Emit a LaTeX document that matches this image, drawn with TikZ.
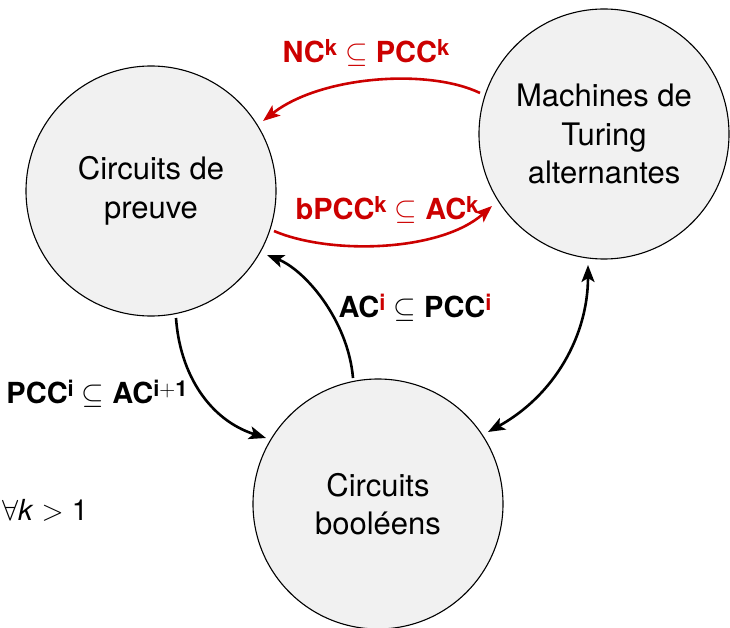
\RequirePackage{fix-cm}
\documentclass[tikz,border=0pt]{standalone}
\usepackage{fontspec}
\setmainfont{TeX Gyre Heros}
\usetikzlibrary{arrows.meta}
\definecolor{dred}{RGB}{204,0,0}
\definecolor{cfill}{RGB}{241,241,241}
\newcommand\supx[1]{\raisebox{7pt}{\fontsize{22}{22}\selectfont #1}}
\begin{document}
\begin{tikzpicture}[x=1pt,y=-1pt,
  state/.style={circle,draw=black,line width=1.1pt,fill=cfill,minimum size=250pt,inner sep=0pt,outer sep=0pt,align=center,font=\fontsize{31}{38.5}\selectfont},
  conn/.style={line width=2.6pt,-{Stealth[length=17pt,width=13pt,inset=4pt]}},
  dconn/.style={line width=2.6pt,{Stealth[length=17pt,width=13pt,inset=4pt]}-{Stealth[length=17pt,width=13pt,inset=4pt]}},
  rconn/.style={conn,draw=dred},
  lab/.style={font=\fontsize{29}{32}\selectfont\bfseries,inner sep=0pt,anchor=base},
]
\useasboundingbox (0,0) rectangle (730,628);
\node[state] (L) at (151,191) {Circuits de\\preuve};
\node[state] (T) at (604,134) {Machines de\\Turing\\alternantes};
\node[state] (B) at (378,504) {Circuits\\booléens};

\coordinate (t1) at (480,93);
\coordinate (l1) at (263,121);
\coordinate (l2) at (274,231);
\coordinate (t2) at (492,206);
\coordinate (b1) at (353,378);
\coordinate (l3) at (267,255);
\coordinate (l4) at (176,318);
\coordinate (b2) at (266,438);
\coordinate (t3) at (588,265);
\coordinate (b3) at (488,432);

\draw[rconn] (t1) .. controls (428,68) and (320,76) .. (l1);
\draw[rconn] (l2) .. controls (330,255) and (440,252) .. (t2);
\draw[conn] (b1) .. controls (348,320) and (305,270) .. (l3);
\draw[conn] (l4) .. controls (180,375) and (210,420) .. (b2);
\draw[dconn] (t3) .. controls (588,335) and (555,395) .. (b3);

\node[lab,text=dred] (n1) at (366,63) {NC\supx{k} $\subseteq$ PCC\supx{k}};
\node[lab,text=dred] (n2) at (387,220) {bPCC\supx{k} $\subseteq$ AC\supx{k}};
\node[lab] (n3) at (415,317) {AC\supx{\textcolor{dred}{i}} $\subseteq$ PCC\supx{\textcolor{dred}{i}}};
\node[lab] (n4) at (97,403) {PCC\supx{i} $\subseteq$ AC\supx{i$+$1}};
\node[font=\fontsize{29}{32}\selectfont,inner sep=0pt,anchor=base] (n5) at (45,520) {$\forall$\textit{k} $>$ 1};
\end{tikzpicture}
\end{document}
